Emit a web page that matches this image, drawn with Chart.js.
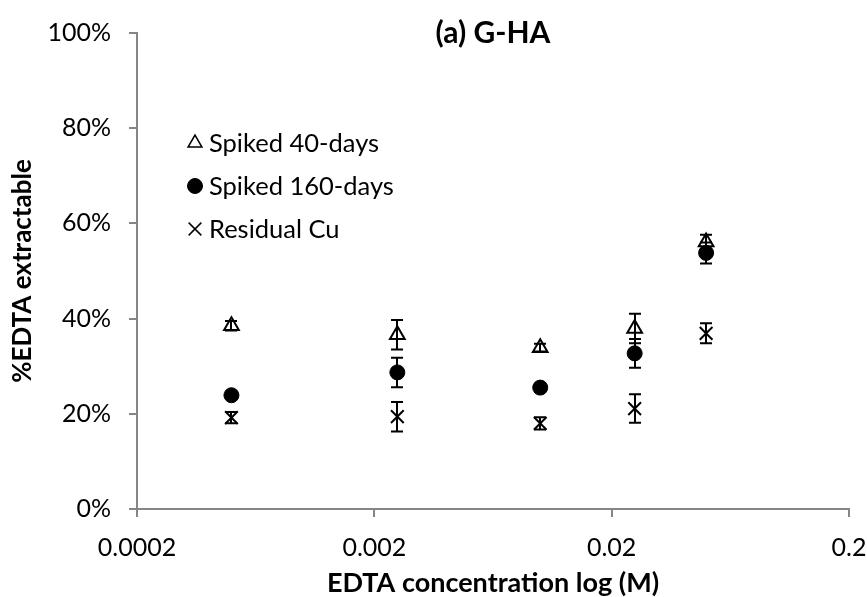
<!DOCTYPE html>
<html>
<head>
<meta charset="utf-8">
<script src="https://cdn.jsdelivr.net/npm/chart.js@4/dist/chart.umd.min.js"></script>
<style>
  html, body { margin: 0; padding: 0; background: #fff; }
</style>
</head>
<body>
<canvas id="myChart" width="867" height="597"></canvas>
<script>
// EDTA concentration (M) and % extractable
const concentrations = [0.0005, 0.0025, 0.01, 0.025, 0.05];
const spiked40 = [38.5, 36.6, 33.9, 37.9, 56.1];
const spiked40Err = [1.0, 3.1, 0.8, 3.1, 1.5];
const spiked160 = [23.9, 28.7, 25.5, 32.7, 53.8];
const spiked160Err = [0.3, 3.1, 0.3, 3.0, 2.2];
const residualCu = [19.2, 19.4, 18.0, 21.1, 36.9];
const residualCuErr = [1.2, 3.1, 1.3, 3.0, 2.1];
const xTicks = [0.0002, 0.002, 0.02, 0.2];
const xTickLabels = ['0.0002', '0.002', '0.02', '0.2'];
const yTicks = [0, 20, 40, 60, 80, 100];

const toPoints = (ys) => ys.map((v, i) => ({ x: concentrations[i], y: v }));

Chart.defaults.font.family = 'Lato, "Open Sans", sans-serif';
Chart.defaults.color = '#000';

// vertical error bars with caps
const errorBars = {
  id: 'errorBars',
  afterDatasetsDraw(chart) {
    const { ctx, scales: { x, y } } = chart;
    ctx.save();
    ctx.strokeStyle = '#000';
    ctx.lineWidth = 2;
    chart.data.datasets.forEach(ds => {
      ds.data.forEach((p, i) => {
        const e = ds.errors[i];
        const px = Math.round(x.getPixelForValue(p.x));
        const top = y.getPixelForValue(p.y + e);
        const bot = y.getPixelForValue(p.y - e);
        ctx.beginPath();
        ctx.moveTo(px, top); ctx.lineTo(px, bot);
        ctx.moveTo(px - 6, top); ctx.lineTo(px + 6, top);
        ctx.moveTo(px - 6, bot); ctx.lineTo(px + 6, bot);
        ctx.stroke();
      });
    });
    ctx.restore();
  }
};

// legend drawn inside the plot, top left
const insideLegend = {
  id: 'insideLegend',
  afterDraw(chart) {
    const ctx = chart.ctx;
    const area = chart.chartArea;
    ctx.save();
    ctx.font = '25.5px Lato, "Open Sans", sans-serif';
    ctx.textBaseline = 'middle';
    chart.data.datasets.forEach((ds, i) => {
      const cx = area.left + 58;
      const cy = area.top + 110 + i * 43;
      ctx.fillStyle = ds.legendFill;
      ctx.strokeStyle = '#000';
      ctx.lineWidth = ds.legendBorder;
      Chart.helpers.drawPoint(ctx, { pointStyle: ds.pointStyle, radius: ds.legendRadius, borderWidth: ds.legendBorder, rotation: 0 }, cx, cy);
      ctx.fillStyle = '#000';
      ctx.fillText(ds.label, cx + 14, cy + 1);
    });
    ctx.restore();
  }
};

const ctx = document.getElementById('myChart').getContext('2d');
window.myChart = new Chart(ctx, {
  type: 'scatter',
  data: {
    datasets: [
      {
        label: 'Spiked 40-days',
        data: toPoints(spiked40),
        errors: spiked40Err,
        pointStyle: 'triangle',
        pointRadius: 8.5,
        pointBackgroundColor: '#fff',
        pointBorderColor: '#000',
        pointBorderWidth: 2,
        legendRadius: 8, legendBorder: 1.5, legendFill: '#fff',
        order: 1
      },
      {
        label: 'Spiked 160-days',
        data: toPoints(spiked160),
        errors: spiked160Err,
        pointStyle: 'circle',
        pointRadius: 7.5,
        pointBackgroundColor: '#000',
        pointBorderColor: '#000',
        pointBorderWidth: 1,
        legendRadius: 7.5, legendBorder: 1, legendFill: '#000',
        order: 0
      },
      {
        label: 'Residual Cu',
        data: toPoints(residualCu),
        errors: residualCuErr,
        pointStyle: 'crossRot',
        pointRadius: 9,
        pointBorderColor: '#000',
        pointBorderWidth: 2,
        legendRadius: 9, legendBorder: 1.5, legendFill: '#000',
        order: 2
      }
    ]
  },
  options: {
    responsive: false,
    animation: false,
    layout: { padding: { top: 0, right: 18, bottom: 0, left: 0 } },
    plugins: {
      legend: { display: false },
      tooltip: { enabled: false },
      title: {
        display: true,
        text: '(a) G-HA',
        fullSize: false,
        color: '#000',
        font: { size: 30, weight: 'bold', lineHeight: 1 },
        padding: { top: 17, bottom: -15 }
      }
    },
    scales: {
      x: {
        type: 'logarithmic',
        min: 0.0002,
        max: 0.2,
        afterBuildTicks: scale => { scale.ticks = xTicks.map(v => ({ value: v })); },
        afterFit: scale => {
          scale.height = 88;
          scale.paddingLeft = 0;
          scale.paddingRight = 0;
        },
        grid: { drawOnChartArea: false, tickLength: 8, color: '#868686', lineWidth: 2 },
        border: { color: '#868686', width: 2 },
        ticks: {
          autoSkip: false,
          maxRotation: 0,
          padding: 16,
          font: { size: 25 },
          callback: (v, i) => xTickLabels[i]
        },
        title: {
          display: true,
          text: 'EDTA concentration log (M)',
          font: { size: 27, weight: 'bold', lineHeight: 1 },
          padding: { top: 0, bottom: 0 }
        }
      },
      y: {
        min: 0,
        max: 100,
        afterBuildTicks: scale => { scale.ticks = yTicks.map(v => ({ value: v })); },
        afterFit: scale => { scale.width = 137; },
        grid: { drawOnChartArea: false, tickLength: 8, color: '#868686', lineWidth: 2 },
        border: { color: '#868686', width: 2 },
        ticks: {
          padding: 18,
          font: { size: 25 },
          callback: v => v + '%'
        },
        title: {
          display: true,
          text: '%EDTA extractable',
          font: { size: 26, weight: 'bold', lineHeight: 1 },
          padding: { top: 10, bottom: 0 }
        }
      }
    }
  },
  plugins: [errorBars, insideLegend]
});
</script>
</body>
</html>
